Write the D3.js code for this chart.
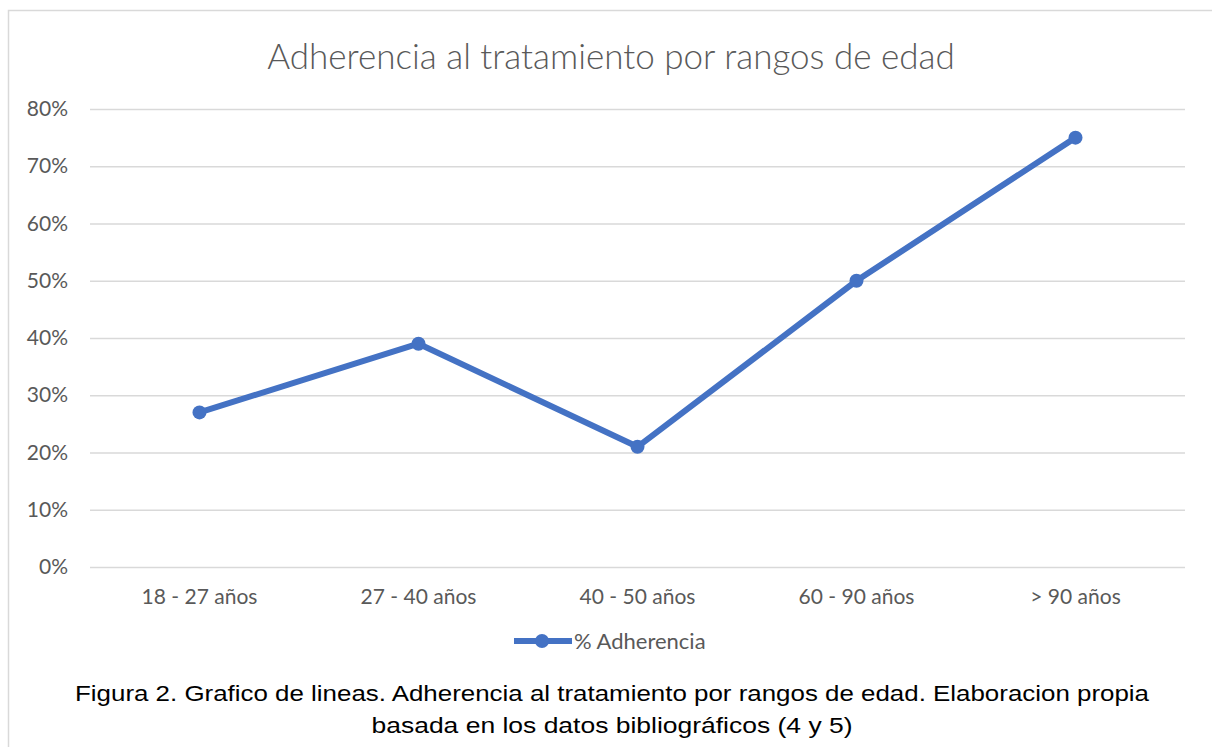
<!DOCTYPE html>
<html>
<head>
<meta charset="utf-8">
<script src="https://cdn.jsdelivr.net/npm/d3@7"></script>
<style>
  body { margin: 0; background: #fff; }
  text { font-family: Lato, "Open Sans", sans-serif; }
  .tick text { fill: #595959; font-size: 21px; }
  .caption { font-family: "Liberation Sans", Arial, sans-serif; fill: #000; font-size: 22px; }
</style>
</head>
<body>
<div id="wrapper"></div>
<script>
// data
const ageRanges = ["18 - 27 años", "27 - 40 años", "40 - 50 años", "60 - 90 años", "> 90 años"]
const adherence = [0.27, 0.39, 0.21, 0.50, 0.75]
const yTicks = [0, 0.1, 0.2, 0.3, 0.4, 0.5, 0.6, 0.7, 0.8]
const seriesName = "% Adherencia"
const chartTitle = "Adherencia al tratamiento por rangos de edad"
const captionLines = [
  "Figura 2. Grafico de lineas. Adherencia al tratamiento por rangos de edad. Elaboracion propia",
  "basada en los datos bibliográficos (4 y 5)"
]

const dataset = ageRanges.map((age, i) => ({ age, value: adherence[i] }))

// dimensions
const width = 1212
const height = 747
const margin = { top: 109, right: 27, bottom: 180, left: 90 }
const boundedWidth = width - margin.left - margin.right
const boundedHeight = height - margin.top - margin.bottom
const blue = "#4472C4"

const svg = d3.select("#wrapper")
  .append("svg")
    .attr("width", width)
    .attr("height", height)

// outer frame
svg.append("rect")
  .attr("x", 8.5)
  .attr("y", 10.5)
  .attr("width", width + 20)
  .attr("height", height + 20)
  .attr("fill", "none")
  .attr("stroke", "#d9d9d9")
  .attr("stroke-width", 1.5)

const bounds = svg.append("g")
  .attr("transform", `translate(${margin.left}, ${margin.top})`)

// scales
const xScale = d3.scaleBand()
  .domain(ageRanges)
  .range([0, boundedWidth])

const yScale = d3.scaleLinear()
  .domain([0, 0.8])
  .range([boundedHeight, 0])

// gridlines + y axis
const yAxis = d3.axisLeft(yScale)
  .tickValues(yTicks)
  .tickFormat(d3.format(".0%"))
  .tickSize(-boundedWidth)
  .tickPadding(22)
const yAxisGroup = bounds.append("g").call(yAxis)
yAxisGroup.select(".domain").remove()
yAxisGroup.selectAll(".tick line")
  .attr("stroke", "#d9d9d9")
  .attr("stroke-width", 1.5)

// x axis
const xAxis = d3.axisBottom(xScale).tickSize(0).tickPadding(22)
const xAxisGroup = bounds.append("g")
  .attr("transform", `translate(0, ${boundedHeight})`)
  .call(xAxis)
xAxisGroup.select(".domain").remove()

// line
const lineGenerator = d3.line()
  .x(d => xScale(d.age) + xScale.bandwidth() / 2)
  .y(d => yScale(d.value))

bounds.append("path")
  .datum(dataset)
  .attr("d", lineGenerator)
  .attr("fill", "none")
  .attr("stroke", blue)
  .attr("stroke-width", 6)
  .attr("stroke-linejoin", "round")

bounds.selectAll(".dot")
  .data(dataset)
  .enter().append("circle")
    .attr("class", "dot")
    .attr("cx", d => xScale(d.age) + xScale.bandwidth() / 2)
    .attr("cy", d => yScale(d.value))
    .attr("r", 7)
    .attr("fill", blue)

// title
svg.append("text")
  .attr("x", 611)
  .attr("y", 69)
  .attr("text-anchor", "middle")
  .attr("fill", "#595959")
  .style("font-size", "35px")
  .style("font-weight", 300)
  .text(chartTitle)

// legend
const legend = svg.append("g")
  .attr("transform", "translate(514, 641)")
legend.append("line")
  .attr("x1", 0).attr("x2", 58)
  .attr("stroke", blue)
  .attr("stroke-width", 6)
legend.append("circle")
  .attr("cx", 28)
  .attr("r", 7)
  .attr("fill", blue)
legend.append("text")
  .attr("x", 60)
  .attr("y", 8)
  .attr("fill", "#595959")
  .style("font-size", "22px")
  .text(seriesName)

// caption
const captionWidths = [1074, 481]
svg.selectAll(".caption")
  .data(captionLines)
  .enter().append("text")
    .attr("class", "caption")
    .attr("x", 612)
    .attr("y", (d, i) => 701 + i * 32)
    .attr("text-anchor", "middle")
    .attr("textLength", (d, i) => captionWidths[i])
    .attr("lengthAdjust", "spacingAndGlyphs")
    .text(d => d)
</script>
</body>
</html>
